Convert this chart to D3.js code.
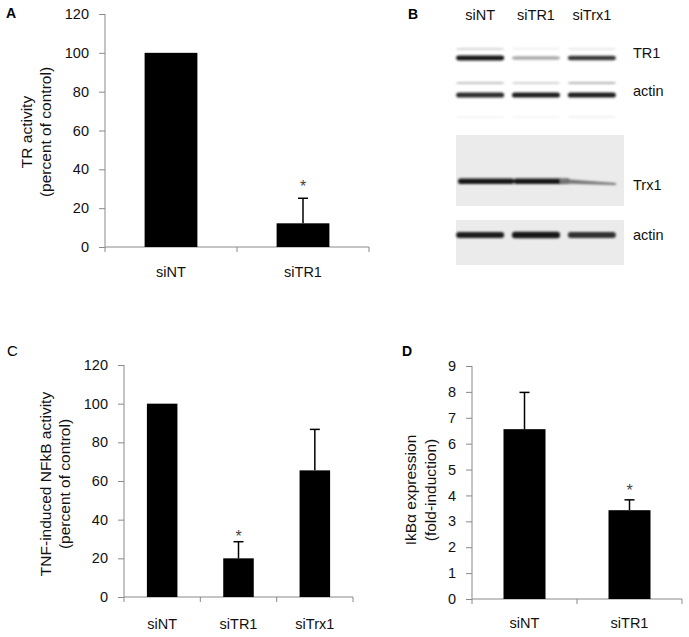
<!DOCTYPE html>
<html>
<head>
<meta charset="utf-8">
<script src="https://cdn.jsdelivr.net/npm/d3@7"></script>
<style>
  body { margin: 0; background: #fff; }
  svg { display: block; }
  text { font-family: "Liberation Sans", Arial, sans-serif; }
</style>
</head>
<body>
<svg id="chart" width="689" height="637"></svg>
<script>
// ---------- DATA ----------
const catsA = ["siNT", "siTR1"];
const valsA = [100, 12.2];
const errA  = [0, 12.9];
const sigA  = [false, true];
const ticksA = [0, 20, 40, 60, 80, 100, 120];

const catsC = ["siNT", "siTR1", "siTrx1"];
const valsC = [100, 20, 65.5];
const errC  = [0, 8.6, 21.2];
const sigC  = [false, true, false];
const ticksC = [0, 20, 40, 60, 80, 100, 120];

const catsD = ["siNT", "siTR1"];
const valsD = [6.56, 3.43];
const errD  = [1.42, 0.40];
const sigD  = [false, true];
const ticksD = [0, 1, 2, 3, 4, 5, 6, 7, 8, 9];

const blotLanes = ["siNT", "siTR1", "siTrx1"];
const blotTR1      = [0.95, 0.35, 0.80];
const blotTR1Upper = [0.22, 0.08, 0.12];
const blotActin1   = [0.85, 0.90, 0.90];
const blotActin1Up = [0.25, 0.18, 0.30];
const blotFaint    = [0.08, 0.06, 0.10];
const blotTrx1     = [0.95, 0.95, 0.55];
const blotActin2   = [0.90, 0.95, 0.82];
const blotLabels = ["TR1", "actin", "Trx1", "actin"];

// ---------- DRAW ----------
const svg = d3.select("#chart");
const axisCol = "#8a8a8a";

function barPanel(opts) {
  const g = svg.append("g");
  const y = d3.scaleLinear().domain(opts.domain).range([opts.y0, opts.y1]);
  const x = d3.scaleBand().domain(opts.cats).range([opts.x0, opts.x1])
    .paddingInner(opts.pad).paddingOuter(opts.pad / 2);

  const ya = g.append("g").attr("transform", `translate(${opts.x0},0)`)
    .call(d3.axisLeft(y).tickValues(opts.ticks).tickSize(6).tickPadding(10).tickFormat(d3.format("d")));
  ya.select(".domain").attr("stroke", axisCol).attr("d", `M-0,${opts.y0}V${opts.y1}`);
  ya.selectAll(".tick line").attr("stroke", axisCol);
  ya.selectAll(".tick text").attr("font-size", 14.5).attr("fill", "#111")
    .attr("font-family", "Liberation Sans, Arial, sans-serif");

  g.append("line").attr("x1", opts.x0).attr("x2", opts.x1)
    .attr("y1", opts.y0).attr("y2", opts.y0).attr("stroke", axisCol);
  const bounds = d3.range(opts.cats.length + 1).map(i => opts.x0 + i * x.step());
  g.selectAll(".xt").data(bounds).join("line")
    .attr("x1", d => d).attr("x2", d => d)
    .attr("y1", opts.y0).attr("y2", opts.y0 + 5).attr("stroke", axisCol);
  g.selectAll(".xl").data(opts.cats).join("text")
    .attr("x", d => x(d) + x.bandwidth() / 2).attr("y", opts.y0 + opts.labDy)
    .attr("text-anchor", "middle").attr("font-size", 14.5).attr("fill", "#111").text(d => d);

  g.selectAll(".bar").data(opts.vals).join("rect")
    .attr("x", (d, i) => x(opts.cats[i])).attr("width", x.bandwidth())
    .attr("y", d => y(d)).attr("height", d => opts.y0 - y(d)).attr("fill", "#000");

  opts.vals.forEach((v, i) => {
    const e = opts.err[i];
    const cx = x(opts.cats[i]) + x.bandwidth() / 2;
    if (e > 0) {
      g.append("line").attr("x1", cx).attr("x2", cx).attr("y1", y(v)).attr("y2", y(v + e))
        .attr("stroke", "#000").attr("stroke-width", 1.5);
      g.append("line").attr("x1", cx - 5).attr("x2", cx + 5).attr("y1", y(v + e)).attr("y2", y(v + e))
        .attr("stroke", "#000").attr("stroke-width", 1.5);
    }
    if (opts.sig[i]) {
      g.append("text").attr("x", cx).attr("y", y(v + e) - opts.starGap)
        .attr("text-anchor", "middle").attr("font-size", 16).attr("fill", "#444").text("*");
    }
  });

  opts.title.forEach((t, i) => {
    g.append("text")
      .attr("transform", `translate(${opts.titleX[i]},${opts.titleY}) rotate(-90)`)
      .attr("text-anchor", "middle").attr("font-size", opts.titleSize).attr("fill", "#111").text(t);
  });
}

barPanel({ cats: catsA, vals: valsA, err: errA, sig: sigA, ticks: ticksA, domain: [0, 120],
  x0: 105, x1: 369, y0: 247, y1: 14, pad: 0.6, labDy: 30, starGap: 6,
  title: ["TR activity", "(percent of control)"], titleX: [32, 51], titleY: 132, titleSize: 15.5 });

barPanel({ cats: catsC, vals: valsC, err: errC, sig: sigC, ticks: ticksC, domain: [0, 120],
  x0: 124, x1: 353, y0: 597, y1: 365, pad: 0.6, labDy: 32, starGap: 0,
  title: ["TNF-induced NFkB activity", "(percent of control)"], titleX: [51, 70], titleY: 484, titleSize: 15.5 });

barPanel({ cats: catsD, vals: valsD, err: errD, sig: sigD, ticks: ticksD, domain: [0, 9],
  x0: 472, x1: 682, y0: 599, y1: 366, pad: 0.6, labDy: 29, starGap: 4,
  title: ["IkB\u03b1 expression", "(fold-induction)"], titleX: [416, 436], titleY: 490, titleSize: 15.5 });

svg.append("text").attr("x", 6).attr("y", 18).attr("font-size", 14).attr("font-weight", "bold").text("A");
svg.append("text").attr("x", 408).attr("y", 19).attr("font-size", 14).attr("font-weight", "bold").text("B");
svg.append("text").attr("x", 7).attr("y", 356).attr("font-size", 15).text("C");
svg.append("text").attr("x", 402).attr("y", 356).attr("font-size", 14).attr("font-weight", "bold").text("D");

// ---------- BLOT (panel B) ----------
const defs = svg.append("defs");
defs.append("filter").attr("id", "blur").attr("x", "-10%").attr("y", "-100%").attr("width", "120%").attr("height", "300%")
  .append("feGaussianBlur").attr("stdDeviation", 0.9);

const lx = d3.scaleBand().domain(blotLanes).range([455, 617]).paddingInner(0.14).paddingOuter(0.02);
const shade = d3.interpolateRgb("#ffffff", "#050505");
const bg = svg.append("g");

bg.selectAll(".lane").data(blotLanes).join("text")
  .attr("x", d => lx(d) + lx.bandwidth() / 2).attr("y", 20)
  .attr("text-anchor", "middle").attr("font-size", 14.5).attr("fill", "#111").text(d => d);

bg.append("rect").attr("x", 456).attr("y", 135).attr("width", 168).attr("height", 71).attr("fill", "#ebebeb");
bg.append("rect").attr("x", 456).attr("y", 220).attr("width", 168).attr("height", 45).attr("fill", "#ebebeb");

function bands(vals, cy, h) {
  bg.append("g").attr("filter", "url(#blur)").selectAll("rect").data(vals).join("rect")
    .attr("x", (d, i) => lx(blotLanes[i]))
    .attr("width", lx.bandwidth())
    .attr("y", d => cy - h * (0.5 + 0.5 * d) / 2)
    .attr("height", d => h * (0.5 + 0.5 * d))
    .attr("rx", 3)
    .attr("fill", d => shade(d));
}
bands(blotTR1Upper, 49, 2.5);
bands(blotTR1, 58, 5);
bands(blotActin1Up, 83, 3);
bands(blotActin1, 95, 5.5);
bands(blotFaint, 117, 2);
bands(blotActin2, 235, 6.5);

const trxG = bg.append("g").attr("filter", "url(#blur)");
trxG.selectAll("rect").data(blotTrx1.slice(0, 2)).join("rect")
  .attr("x", (d, i) => lx(blotLanes[i]) + 2).attr("width", lx.step())
  .attr("y", 178.5).attr("height", 5.5).attr("rx", 2).attr("fill", d => shade(d));
const l3 = lx(blotLanes[2]);
trxG.append("path")
  .attr("d", `M${l3 - 8},178.8 L${l3 + lx.bandwidth()},183 L${l3 + lx.bandwidth()},185 L${l3 - 8},183.5 Z`)
  .attr("fill", shade(blotTrx1[2]));

bg.selectAll(".bl").data(blotLabels).join("text")
  .attr("x", 633).attr("y", (d, i) => [58, 96, 190, 240][i])
  .attr("font-size", 14.5).attr("fill", "#111").text(d => d);
</script>
</body>
</html>
